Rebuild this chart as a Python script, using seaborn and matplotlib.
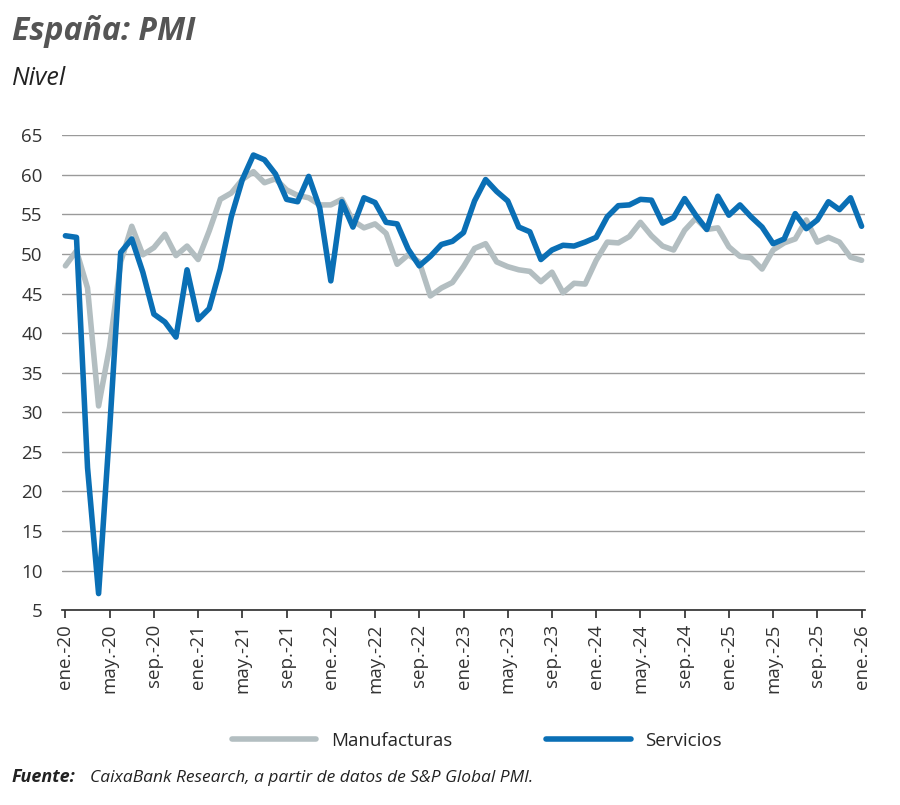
import numpy as np
import pandas as pd
import matplotlib
matplotlib.use("Agg")
import matplotlib.pyplot as plt
import seaborn as sns

# -------------------------------------------------------------------
# Datos (ene.-20 a ene.-26, mensual)
# -------------------------------------------------------------------
servicios = [
    52.3, 52.1, 23.0, 7.1, 27.9, 50.2, 51.9, 47.7, 42.4, 41.4, 39.5, 48.0,
    41.7, 43.1, 48.1, 54.7, 59.4, 62.5, 61.9, 60.1, 56.9, 56.6, 59.8, 55.8,
    46.6, 56.6, 53.4, 57.1, 56.5, 54.0, 53.8, 50.6, 48.5, 49.7, 51.2, 51.6,
    52.7, 56.7, 59.4, 57.9, 56.7, 53.4, 52.8, 49.3, 50.5, 51.1, 51.0, 51.5,
    52.1, 54.7, 56.1, 56.2, 56.9, 56.8, 53.9, 54.6, 57.0, 54.9, 53.1, 57.3,
    54.9, 56.2, 54.7, 53.4, 51.3, 51.9, 55.1, 53.2, 54.3, 56.6, 55.6, 57.1,
    53.5,
]
manufacturas = [
    48.5, 50.4, 45.7, 30.8, 38.3, 49.0, 53.5, 49.9, 50.8, 52.5, 49.8, 51.0,
    49.3, 52.9, 56.9, 57.7, 59.4, 60.4, 59.0, 59.5, 58.1, 57.4, 57.1, 56.2,
    56.2, 56.9, 54.2, 53.3, 53.8, 52.6, 48.7, 49.9, 49.0, 44.7, 45.7, 46.4,
    48.4, 50.7, 51.3, 49.0, 48.4, 48.0, 47.8, 46.5, 47.7, 45.1, 46.3, 46.2,
    49.2, 51.5, 51.4, 52.2, 54.0, 52.3, 51.0, 50.5, 53.0, 54.5, 53.1, 53.3,
    50.9, 49.7, 49.5, 48.1, 50.5, 51.4, 51.9, 54.3, 51.5, 52.1, 51.5, 49.6,
    49.2,
]
meses = ["ene.", "may.", "sep."]

n = len(servicios)
df = pd.DataFrame({
    "mes": list(range(n)) * 2,
    "valor": manufacturas + servicios,
    "serie": ["Manufacturas"] * n + ["Servicios"] * n,
})

tick_pos = list(range(0, n, 4))
tick_lab = [f"{meses[(i // 4) % 3]}-{20 + i // 12}" for i in tick_pos]

# -------------------------------------------------------------------
# Gráfico
# -------------------------------------------------------------------
sns.set_theme(style="white")
plt.rcParams["font.family"] = ["Open Sans", "DejaVu Sans"]

fig = plt.figure(figsize=(9, 8.05), dpi=100)
ax = fig.add_axes([0.069, 0.242, 0.892, 0.59])

sns.lineplot(data=df, x="mes", y="valor", hue="serie",
             palette={"Manufacturas": "#b3bec1", "Servicios": "#0a6fb5"},
             linewidth=4, ax=ax, legend=False)

ax.set_ylim(5, 65)
ax.set_xlim(-0.3, n - 0.7)
ax.set_yticks(range(5, 70, 5))
ax.yaxis.grid(True, color="#9a9a9a", linewidth=1)
ax.set_axisbelow(True)
for s in ["top", "right", "left"]:
    ax.spines[s].set_visible(False)
ax.spines["bottom"].set_color("#333333")
ax.set_xticks(tick_pos)
ax.set_xticklabels(tick_lab, rotation=90)
ax.tick_params(axis="x", bottom=True, length=6, color="#333333", labelsize=13.5, pad=4)
ax.tick_params(axis="y", left=False, labelsize=13.5, pad=8)
for t in ax.get_xticklabels() + ax.get_yticklabels():
    t.set_color("#333333")
ax.set_xlabel("")
ax.set_ylabel("")

fig.text(0.013, 0.95, "España: PMI", fontsize=23, fontweight="bold",
         fontstyle="italic", color="#555555")
fig.text(0.013, 0.895, "Nivel", fontsize=18, fontstyle="italic", color="#222222")

# Leyenda
h1, = ax.plot([], [], color="#b3bec1", linewidth=4, label="Manufacturas")
h2, = ax.plot([], [], color="#0a6fb5", linewidth=4, label="Servicios")
fig.legend(handles=[h1, h2], loc="center", bbox_to_anchor=(0.53, 0.08),
           ncol=2, frameon=False, fontsize=13.5, handlelength=4.5,
           columnspacing=5)

fig.text(0.013, 0.028, "Fuente:", fontsize=13, fontweight="bold",
         fontstyle="italic", color="#222222")
fig.text(0.1, 0.028, "CaixaBank Research, a partir de datos de S&P Global PMI.",
         fontsize=12.5, fontstyle="italic", color="#222222")

fig.savefig("out.png", dpi=100, facecolor="white")
